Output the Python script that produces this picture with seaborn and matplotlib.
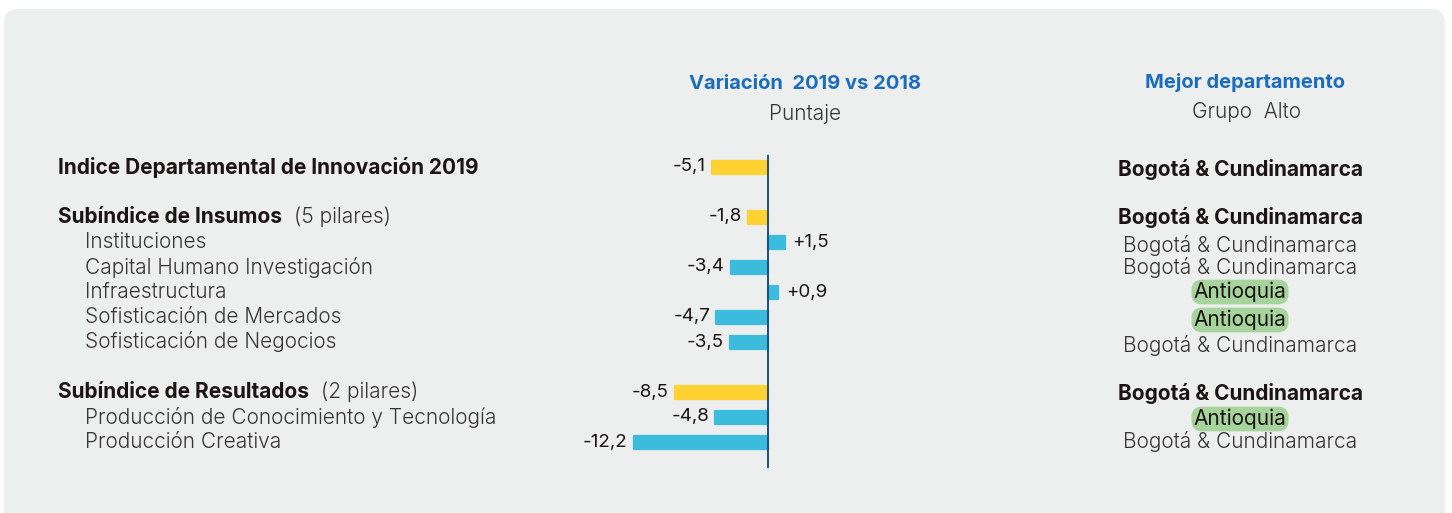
import matplotlib
matplotlib.use("Agg")
import matplotlib.pyplot as plt
import matplotlib.transforms as mtransforms
from matplotlib.patches import FancyBboxPatch
import numpy as np
import pandas as pd
import seaborn as sns

# data
labels = ["Indice Departamental de Innovación 2019",
          "Subíndice de Insumos",
          "Instituciones",
          "Capital Humano Investigación",
          "Infraestructura",
          "Sofisticación de Mercados",
          "Sofisticación de Negocios",
          "Subíndice de Resultados",
          "Producción de Conocimiento y Tecnología",
          "Producción Creativa"]
notes = ["", "(5 pilares)", "", "", "", "", "", "(2 pilares)", "", ""]
level = ["indice", "subindice", "pilar", "pilar", "pilar", "pilar", "pilar",
         "subindice", "pilar", "pilar"]
variacion = [-5.1, -1.8, 1.5, -3.4, 0.9, -4.7, -3.5, -8.5, -4.8, -12.2]
mejor = ["Bogotá & Cundinamarca", "Bogotá & Cundinamarca", "Bogotá & Cundinamarca",
         "Bogotá & Cundinamarca", "Antioquia", "Antioquia", "Bogotá & Cundinamarca",
         "Bogotá & Cundinamarca", "Antioquia", "Bogotá & Cundinamarca"]
# row slots (blank slots between the groups)
slots = [0, 2, 3, 4, 5, 6, 7, 9, 10, 11]
# small vertical nudges (px) of the right-hand column
nudge_px = [2, 0, 3, 1, 0, 3, 4, 2, 2, 0]

df = pd.DataFrame({"label": labels, "valor": variacion, "nivel": level,
                   "tipo": ["grupo" if l != "pilar" else "pilar" for l in level]})

# order with spacer rows
order = []
spacer = 0
for s in range(12):
    if s in slots:
        order.append(labels[slots.index(s)])
    else:
        spacer += 1
        order.append(" " * spacer)

sns.set_theme(style="white")
plt.rcParams["font.family"] = ["Inter", "DejaVu Sans"]

W, H = 1452, 513
LIGHT = 300
FS = 15
DARK = "#1c1414"
GREY = "#3a3535"
BLUE = "#1b6dbb"
fig = plt.figure(figsize=(W / 100, H / 100), dpi=100)
fig.patch.set_facecolor("white")

# rounded panel (top corners visible, bottom runs off the figure)
panel = FancyBboxPatch((4 / W, -0.1), 1441 / W, 1.1 - 9 / H,
                       boxstyle="round,pad=0,rounding_size=0.0095",
                       transform=fig.transFigure, facecolor="#edeeee",
                       edgecolor="none", mutation_aspect=W / H, zorder=-5)
fig.patches.append(panel)

# bar axes: zero at x=768 px, rows 25 px apart
px_per_unit = 11
ax_left, ax_right = 560, 850
ax_top, ax_bot = 155, 468
ax = fig.add_axes([ax_left / W, 1 - ax_bot / H, (ax_right - ax_left) / W, (ax_bot - ax_top) / H])
ax.patch.set_alpha(0)

sns.barplot(data=df, x="valor", y="label", hue="tipo", order=order,
            palette={"grupo": "#fdd232", "pilar": "#3bbcdc"}, saturation=1,
            orient="h", width=0.52, legend=False, ax=ax, zorder=2)
for p in ax.patches:
    p.set_edgecolor(p.get_facecolor())
    p.set_linewidth(1.6)
    p.set_joinstyle("round")

ax.set_xlim((ax_left - 768) / px_per_unit, (ax_right - 768) / px_per_unit)
ax.set_ylim(12.04, -0.48)
ax.axvline(0, color="#1d4f7c", lw=1.4, zorder=3)
ax.set_xticks([])
ax.set_yticks([])
ax.set_xlabel("")
ax.set_ylabel("")
sns.despine(ax=ax, left=True, bottom=True)

# value labels
for s, v in zip(slots, variacion):
    txt = f"{v:+.1f}".replace(".", ",")
    if v < 0:
        ax.annotate(txt, (v, s), xytext=(-6, 0), textcoords="offset pixels",
                    ha="right", va="center", fontsize=13.5, color=DARK)
    else:
        ax.annotate(txt, (v, s), xytext=(8, 0), textcoords="offset pixels",
                    ha="left", va="center", fontsize=13.5, color=DARK)

# row labels on the left
trans = mtransforms.blended_transform_factory(fig.transFigure, ax.transData)
renderer = fig.canvas.get_renderer()
for s, lab, nota, lv in zip(slots, labels, notes, level):
    if lv == "pilar":
        ax.text(85 / W, s, lab, transform=trans, ha="left", va="center",
                fontsize=FS, fontweight=LIGHT, color=GREY, clip_on=False)
    else:
        t = ax.text(58 / W, s, lab, transform=trans, ha="left", va="center",
                    fontsize=FS, fontweight="bold", color=DARK, clip_on=False)
        if nota:
            bb = t.get_window_extent(renderer)
            ax.text((bb.x1 + 12) / W, s, nota, transform=trans, ha="left", va="center",
                    fontsize=FS, fontweight=LIGHT, color=GREY, clip_on=False)

# best department column
for s, dep, lv, nd in zip(slots, mejor, level, nudge_px):
    y = s + nd / 25
    if dep == "Antioquia":
        ax.text(1240 / W, y, dep, transform=trans, ha="center", va="center",
                fontsize=FS, color=DARK, clip_on=False,
                bbox=dict(boxstyle="round,pad=0.1,rounding_size=0.5",
                          facecolor="#a6d49c", edgecolor="none"))
    elif lv == "pilar":
        ax.text(1240 / W, y, dep, transform=trans, ha="center", va="center",
                fontsize=FS, fontweight=LIGHT, color=GREY, clip_on=False)
    else:
        ax.text(1240 / W, y, dep, transform=trans, ha="center", va="center",
                fontsize=FS, fontweight="bold", color=DARK, clip_on=False)

# headers
fig.text(805 / W, 1 - 84 / H, "Variación  2019 vs 2018", ha="center", va="center",
         fontsize=14.5, fontweight="bold", color=BLUE)
fig.text(805 / W, 1 - 114 / H, "Puntaje", ha="center", va="center",
         fontsize=FS, fontweight=LIGHT, color=GREY)
fig.text(1245 / W, 1 - 82 / H, "Mejor departamento", ha="center", va="center",
         fontsize=14.5, fontweight="bold", color=BLUE)
fig.text(1247 / W, 1 - 112 / H, "Grupo  Alto", ha="center", va="center",
         fontsize=FS, fontweight=LIGHT, color=GREY)

fig.savefig("out.png", dpi=100, facecolor="white")
